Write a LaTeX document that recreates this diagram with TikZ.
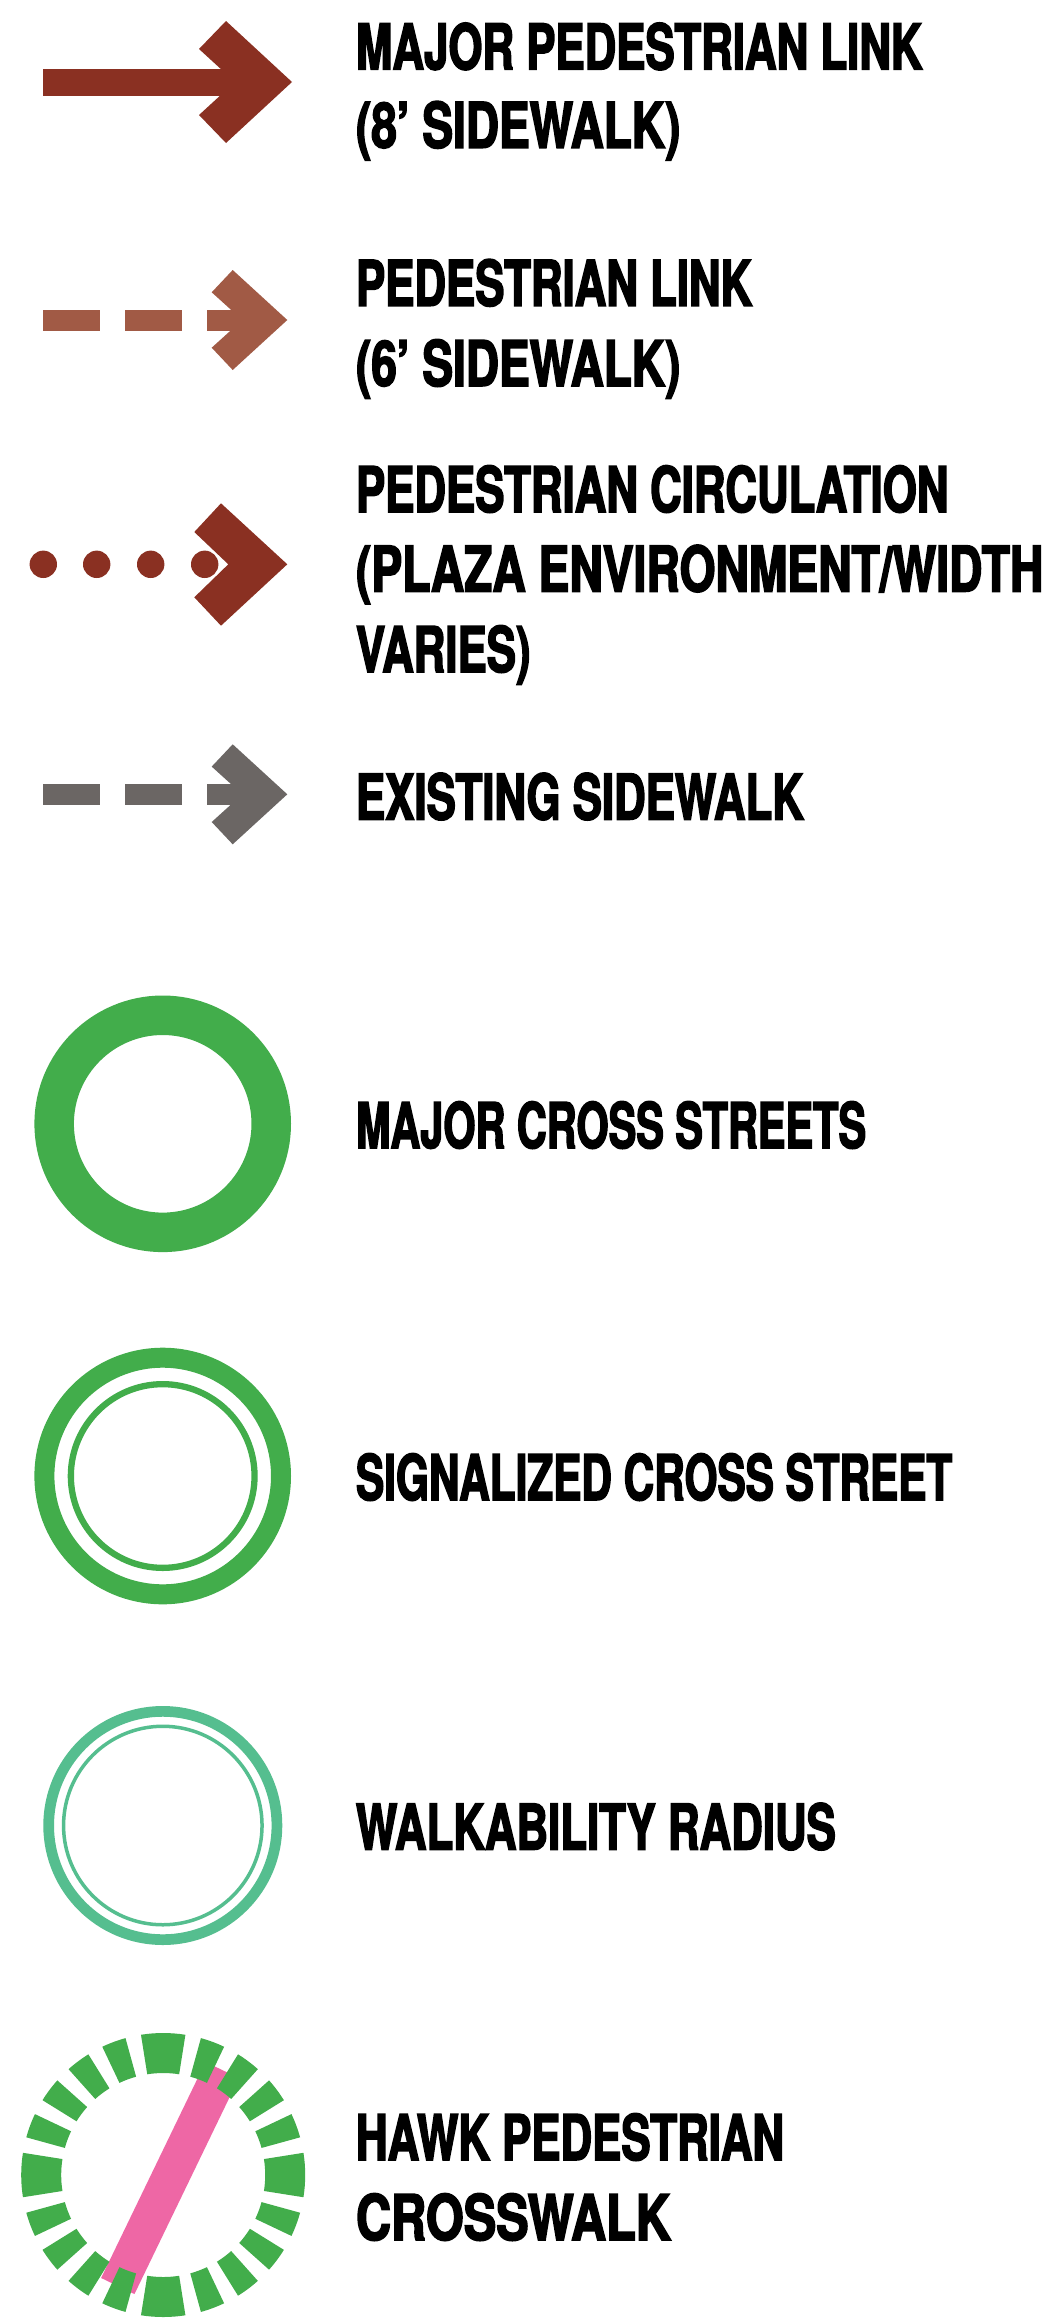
\documentclass[tikz,border=0pt]{standalone}
\usepackage{graphicx}
\usepackage{fontspec}
\setmainfont{TeX Gyre Heros}[FakeStretch=0.695,BoldFeatures={FakeBold=2.4}]
\definecolor{majred}{RGB}{138,48,34}
\definecolor{pedred}{RGB}{161,90,69}
\definecolor{exgray}{RGB}{107,102,100}
\definecolor{grn}{RGB}{66,173,75}
\definecolor{walk}{RGB}{85,190,143}
\definecolor{hpink}{RGB}{238,103,165}
\tikzset{
  lab/.style={anchor=base west, inner sep=0pt, outer sep=0pt, text=black,
    font=\fontsize{63}{80}\selectfont\bfseries},
}
\newcommand{\hs}[2]{\scalebox{#1}[1]{#2}}
\begin{document}
\begin{tikzpicture}[x=1pt,y=-1pt]
\useasboundingbox (0,0) rectangle (1052,2318);
\fill[white] (0,0) rectangle (1052,2318);

% --- Major pedestrian link
\fill[majred] (43,69) rectangle (240,96);
\fill[majred] (226,21) -- (292,82) -- (226,143) -- (199,115) -- (235,82) -- (199,49) -- cycle;

% --- Pedestrian link (dashed)
\begin{scope}[fill=pedred]
\fill (43,309.5) rectangle (100,330.5);
\fill (125,309.5) rectangle (182,330.5);
\fill (207,309.5) rectangle (245,330.5);
\fill (232.7,270) -- (287.3,320) -- (232.7,370) -- (211.7,347.7) -- (242.3,320) -- (211.7,292.3) -- cycle;
\end{scope}

% --- Pedestrian circulation (dots)
\begin{scope}[fill=majred]
\foreach \dx in {43.3,96.7,150.7,204.7} \fill (\dx,564.3) circle[radius=13.7];
\fill (221,503.3) -- (287.3,564.3) -- (221,625.7) -- (194.3,597.3) -- (228.3,564.3) -- (194.3,532) -- cycle;
\end{scope}

% --- Existing sidewalk
\begin{scope}[fill=exgray]
\fill (43,783.8) rectangle (100,804.8);
\fill (125,783.8) rectangle (182,804.8);
\fill (207,783.8) rectangle (245,804.8);
\fill (232.7,744.3) -- (287.3,794.3) -- (232.7,844.3) -- (211.7,822) -- (242.3,794.3) -- (211.7,766.6) -- cycle;
\end{scope}

% --- Major cross streets
\draw[grn, line width=39.5pt] (162.7,1123.8) circle[radius=108.55];

% --- Signalized cross street
\draw[grn, line width=20pt] (162.7,1476) circle[radius=118.3];
\draw[grn, line width=6.3pt] (162.7,1476) circle[radius=91.85];

% --- Walkability radius
\draw[walk, line width=10.7pt] (162.8,1825.5) circle[radius=114.15];
\draw[walk, line width=3.5pt] (162.8,1825.5) circle[radius=99.25];

% --- HAWK pedestrian crosswalk
\coordinate (hc) at (163.2,2175);
\coordinate (pt) at (222.2,2070);
\coordinate (pb) at (117.8,2286);
\draw[hpink, line width=37pt] (pt) -- (pb);
\foreach \q in {0,90,180,270}{
  \foreach \a/\b in {-9/9,15.4/25.4,31.8/41.8,48.2/58.2,64.6/74.6}{
    \pgfmathsetmacro{\sa}{\q+\a}
    \pgfmathsetmacro{\sb}{\q+\b}
    \fill[grn] ([shift={(\sa:142)}]hc) arc[start angle=\sa, end angle=\sb, radius=142]
      -- ([shift={(\sb:102)}]hc) arc[start angle=\sb, end angle=\sa, radius=102] -- cycle;
  }
}

% --- Labels
\node[lab] (t1a) at (356,69.4) {MAJOR PEDESTRIAN LINK};
\node[lab] (t1b) at (356,147.8) {\hs{1.05}{(8’ SIDEWALK)}};
\node[lab] (t2a) at (356,305.8) {PEDESTRIAN LINK};
\node[lab] (t2b) at (356,386) {\hs{1.05}{(6’ SIDEWALK)}};
\node[lab] (t3a) at (356,512) {PEDESTRIAN CIRCULATION};
\node[lab] (t3b) at (356,591.5) {\hs{1.055}{(PLAZA ENVIRONMENT/WIDTH}};
\node[lab] (t3c) at (356,672) {VARIES)};
\node[lab] (t4) at (356,819.5) {EXISTING SIDEWALK};
\node[lab] (t5) at (356,1148) {\hs{0.945}{MAJOR CROSS STREETS}};
\node[lab] (t6) at (356,1500) {\hs{0.966}{SIGNALIZED CROSS STREET}};
\node[lab] (t7) at (356,1849.5) {WALKABILITY RADIUS};
\node[lab] (t8a) at (356,2160) {HAWK PEDESTRIAN};
\node[lab] (t8b) at (356,2240) {\hs{1.11}{CROSSWALK}};
\end{tikzpicture}
\end{document}
